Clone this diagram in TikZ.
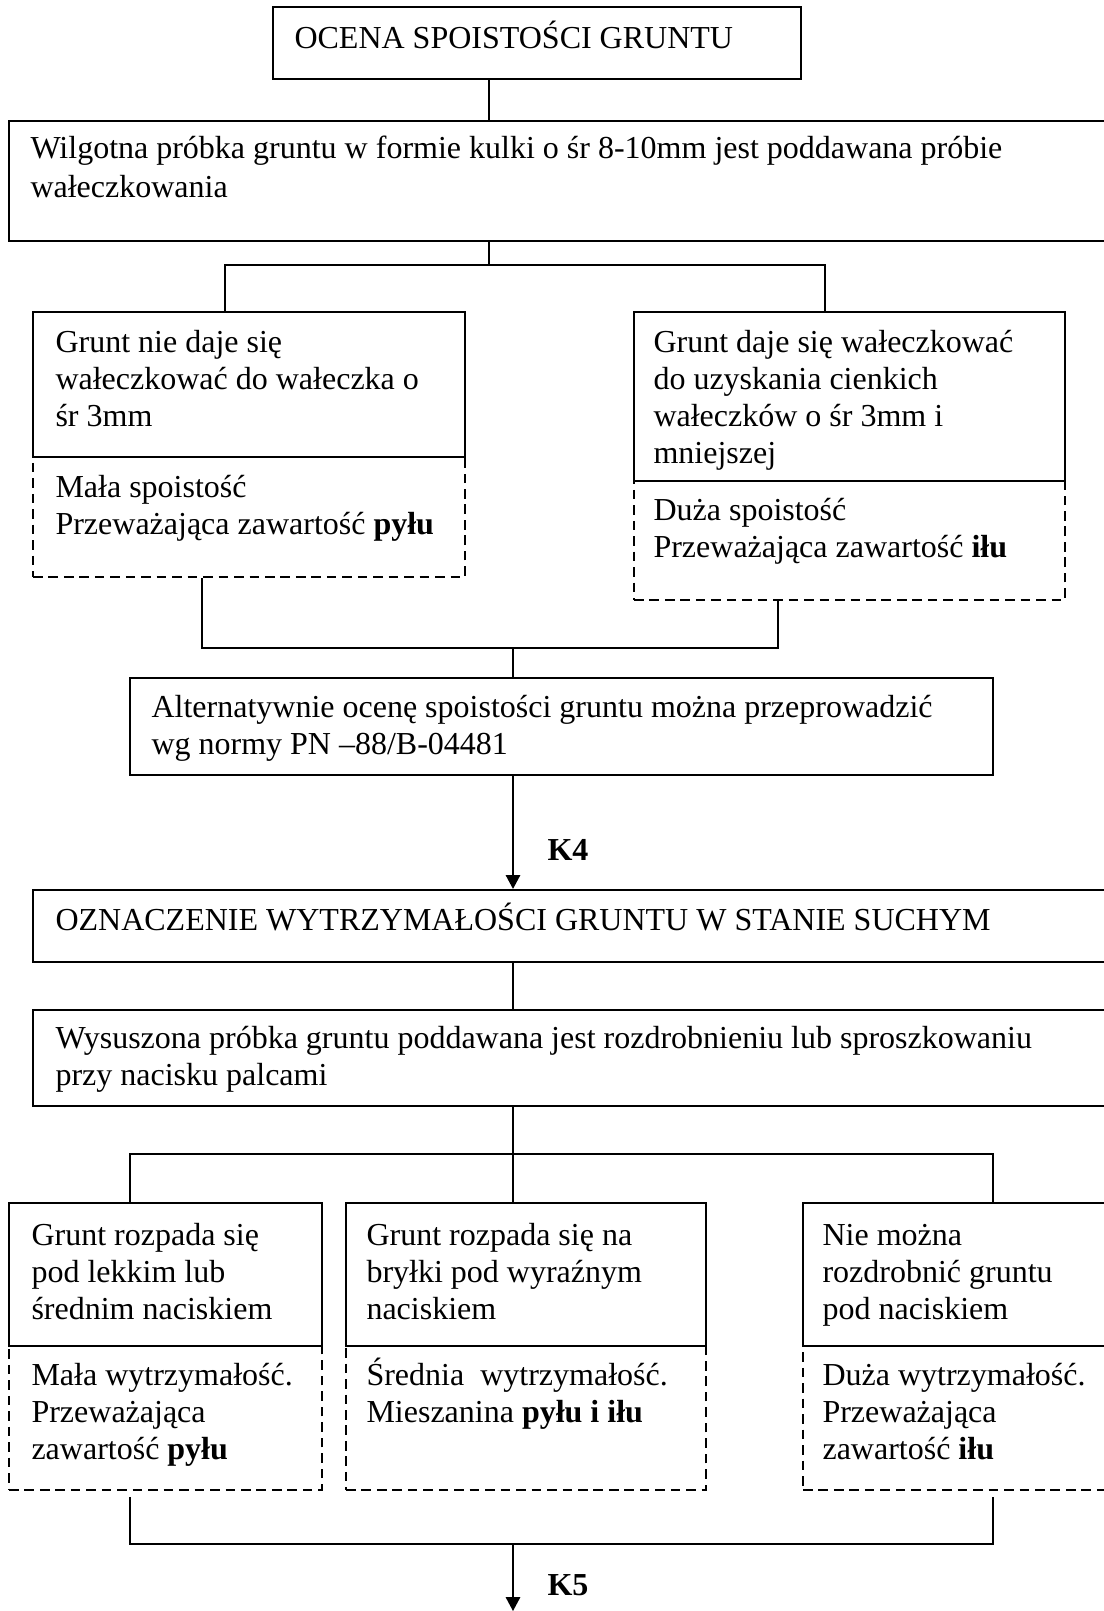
\documentclass[tikz,border=0pt]{standalone}
\usepackage{fontspec}
\setmainfont{Liberation Serif}
\usetikzlibrary{fit,calc,arrows.meta}

\tikzset{
    solidbox/.style={draw, line width=0.8pt, inner sep=0pt},
    dashbox/.style={solidbox, dash pattern=on 3.6pt off 2.2pt},
    boxtext/.style={anchor=base west, align=left, inner sep=0pt, font=\fontsize{12pt}{13.8pt}\selectfont},
    widetext/.style={boxtext, font=\fontsize{12pt}{14.6pt}\selectfont},
    link/.style={line width=0.6pt},
    arrow/.style={link, -{Triangle[length=5.2pt, width=5.4pt]}}
}

\begin{document}
\begin{tikzpicture}[x=0.375pt, y=-0.375pt]
        \useasboundingbox (0, 0) rectangle (1104, 1611);
        \clip (0, 0) rectangle (1104, 1611);

        \coordinate (xa) at (489, 0);
        \coordinate (xb1) at (225, 0);
        \coordinate (xb2) at (825, 0);
        \coordinate (xc1) at (202, 0);
        \coordinate (xc2) at (778, 0);
        \coordinate (xd1) at (130, 0);
        \coordinate (xd3) at (993, 0);
        \coordinate (fork1) at (489, 265);
        \coordinate (join1) at (513, 648);
        \coordinate (fork2) at (513, 1154);
        \coordinate (join2) at (513, 1544);
        \coordinate (k5end) at (513, 1611);

        \node[dashbox, fit={(33, 457) (465, 577)}] (weakcoh) {};
        \node[dashbox, fit={(634, 481) (1065, 600)}] (strongcoh) {};
        \node[dashbox, fit={(9, 1346) (322, 1490)}] (lowstr) {};
        \node[dashbox, fit={(346, 1346) (706, 1490)}] (midstr) {};
        \node[dashbox, fit={(803, 1346) (1130, 1490)}] (highstr) {};

        \node[solidbox, fit={(273, 7) (801, 79)}] (ocena) {};
        \node[solidbox, fit={(9, 121) (1130, 241)}] (wet) {};
        \node[solidbox, fit={(33, 312) (465, 457)}] (rollno) {};
        \node[solidbox, fit={(634, 312) (1065, 481)}] (rollyes) {};
        \node[solidbox, fit={(130, 678) (993, 775)}] (alt) {};
        \node[solidbox, fit={(33, 890) (1130, 962)}] (dry) {};
        \node[solidbox, fit={(33, 1010) (1130, 1106)}] (crush) {};
        \node[solidbox, fit={(9, 1203) (322, 1346)}] (lowpress) {};
        \node[solidbox, fit={(346, 1203) (706, 1346)}] (midpress) {};
        \node[solidbox, fit={(803, 1203) (1130, 1346)}] (nopress) {};

        \node[boxtext] (ocenatxt) at (294, 48) {OCENA SPOISTOŚCI GRUNTU};
        \node[widetext] (wettxt) at (30, 197) {Wilgotna próbka gruntu w formie kulki o śr 8-10mm jest poddawana próbie\\ wałeczkowania};
        \node[boxtext] (rollnotxt) at (55, 426) {Grunt nie daje się\\ wałeczkować do wałeczka o\\ śr 3mm};
        \node[boxtext] (weakcohtxt) at (55, 534) {Mała spoistość\\ Przeważająca zawartość \textbf{pyłu}};
        \node[boxtext] (rollyestxt) at (653, 463) {Grunt daje się wałeczkować\\ do uzyskania cienkich\\ wałeczków o śr 3mm i\\ mniejszej};
        \node[boxtext] (strongcohtxt) at (653, 557) {Duża spoistość\\ Przeważająca zawartość \textbf{iłu}};
        \node[boxtext] (alttxt) at (151, 754) {Alternatywnie ocenę spoistości gruntu można przeprowadzić\\ wg normy PN –88/B-04481};
        \node[boxtext] (drytxt) at (55, 930) {OZNACZENIE WYTRZYMAŁOŚCI GRUNTU W STANIE SUCHYM};
        \node[boxtext] (crushtxt) at (55, 1085) {Wysuszona próbka gruntu poddawana jest rozdrobnieniu lub sproszkowaniu\\ przy nacisku palcami};
        \node[boxtext] (lowpresstxt) at (31, 1319) {Grunt rozpada się\\ pod lekkim lub\\ średnim naciskiem};
        \node[boxtext] (midpresstxt) at (366, 1319) {Grunt rozpada się na\\ bryłki pod wyraźnym\\ naciskiem};
        \node[boxtext] (nopresstxt) at (822, 1319) {Nie można\\ rozdrobnić gruntu\\ pod naciskiem};
        \node[boxtext] (lowstrtxt) at (31, 1459) {Mała wytrzymałość.\\ Przeważająca\\ zawartość \textbf{pyłu}};
        \node[boxtext] (midstrtxt) at (366, 1422) {Średnia\ \ wytrzymałość.\\ Mieszanina \textbf{pyłu i iłu}};
        \node[boxtext] (highstrtxt) at (822, 1459) {Duża wytrzymałość.\\ Przeważająca\\ zawartość \textbf{iłu}};
        \node[boxtext] (k4) at (547, 860) {\textbf{K4}};
        \node[boxtext] (k5) at (547, 1595) {\textbf{K5}};

        \draw[link] (xa |- ocena.south) -- (xa |- wet.north);
        \draw[link] (xa |- wet.south) -- (fork1);
        \draw[link] (rollno.north -| xb1) -- (fork1 -| xb1) -- (fork1 -| xb2) -- (rollyes.north -| xb2);
        \draw[link] (weakcoh.south -| xc1) -- (join1 -| xc1) -- (join1 -| xc2) -- (strongcoh.south -| xc2);
        \draw[link] (join1) -- (alt.north -| join1);
        \draw[arrow] (alt.south -| join1) -- (dry.north -| join1);
        \draw[link] (dry.south -| fork2) -- (crush.north -| fork2);
        \draw[link] (crush.south -| fork2) -- (fork2);
        \draw[link] (lowpress.north -| xd1) -- (fork2 -| xd1) -- (fork2 -| xd3) -- (nopress.north -| xd3);
        \draw[link] (fork2) -- (midpress.north -| fork2);
        \draw[link] ($(lowstr.south -| xd1) + (0, 6)$) -- (join2 -| xd1) -- (join2 -| xd3) -- ($(highstr.south -| xd3) + (0, 6)$);
        \draw[arrow] (join2) -- (k5end);
    \end{tikzpicture}
\end{document}
